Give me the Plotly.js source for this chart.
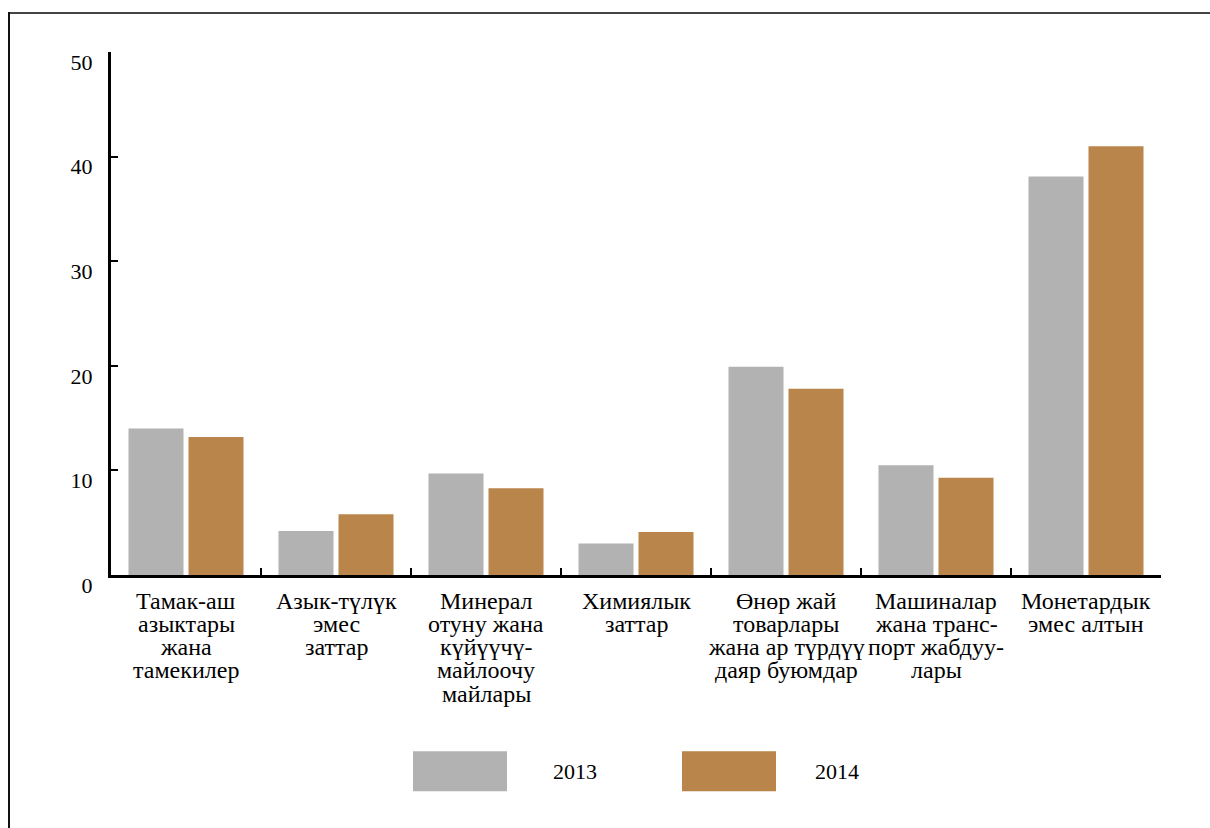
<!DOCTYPE html>
<html>
<head>
<meta charset="utf-8">
<script src="https://cdn.plot.ly/plotly-3.0.1.min.js"></script>
<style>
  html, body { margin: 0; padding: 0; background: #fff; }
  #chart { width: 1210px; height: 828px; }
</style>
</head>
<body>
<div id="chart"></div>
<script>
// ---- data ----
const categories = [
  "Тамак-аш<br>азыктары<br>жана<br>тамекилер",
  "Азык-түлүк<br>эмес<br>заттар",
  "Минерал<br>отуну жана<br>күйүүчү-<br>майлоочу<br>майлары",
  "Химиялык<br>заттар",
  "Өнөр жай<br>товарлары<br>жана ар түрдүү<br>даяр буюмдар",
  "Машиналар<br>жана транс-<br>порт жабдуу-<br>лары",
  "Монетардык<br>эмес алтын"
];
const seriesNames = ["2013", "2014"];
const values2013 = [14.0, 4.2, 9.7, 3.0, 19.9, 10.5, 38.1];
const values2014 = [13.2, 5.8, 8.3, 4.1, 17.8, 9.3, 41.0];
const yTickVals = [0, 10, 20, 30, 40, 50];
const yTickText = ["0", "10", "20", "30", "40", "50"];

// ---- styling ----
const FONT = '"Liberation Serif", "Times New Roman", Times, serif';
const colors = ["#b2b2b2", "#b9854a"];

const W = 1210, H = 828;
const M = { l: 111, r: 49, t: 52, b: 252.5 };
const pw = W - M.l - M.r, ph = H - M.t - M.b;
const px2x = p => (p - M.l) / pw;
const py2y = p => (H - M.b - p) / ph;

const traces = [values2013, values2014].map((vals, i) => ({
  type: "bar",
  name: seriesNames[i],
  x: categories,
  y: vals,
  marker: { color: colors[i], line: { width: 0 } },
  hoverinfo: "x+y+name",
  showlegend: false
}));

// category labels: one annotation per line, tight line spacing
const annotations = [];
categories.forEach(cat => {
  cat.split("<br>").forEach((line, j) => {
    annotations.push({
      x: cat, xref: "x", y: 0, yref: "paper",
      text: line, showarrow: false,
      xanchor: "center", yanchor: "middle",
      yshift: -(601 - (H - M.b)) - j * 23.3,
      font: { family: FONT, size: 24, color: "#000" }
    });
  });
});

// legend (custom large swatches)
const legendBoxes = [[413, 507], [682, 776]];
const legendTextX = [575, 836.5];
const shapes = [];
seriesNames.forEach((nm, i) => {
  shapes.push({
    type: "rect", xref: "paper", yref: "paper",
    x0: px2x(legendBoxes[i][0]), x1: px2x(legendBoxes[i][1]),
    y0: py2y(752), y1: py2y(792),
    fillcolor: colors[i], line: { width: 0 }
  });
  annotations.push({
    x: px2x(legendTextX[i]), xref: "paper", y: py2y(772), yref: "paper",
    text: nm, showarrow: false, xanchor: "center", yanchor: "middle",
    font: { family: FONT, size: 22, color: "#000" }
  });
});

// outer frame (top and left edges)
shapes.push({
  type: "line", xref: "paper", yref: "paper",
  x0: px2x(8), x1: px2x(1212), y0: py2y(13), y1: py2y(13),
  line: { color: "#444", width: 2 }
});
shapes.push({
  type: "line", xref: "paper", yref: "paper",
  x0: px2x(9), x1: px2x(9), y0: py2y(12), y1: py2y(830),
  line: { color: "#111", width: 2 }
});

const layout = {
  width: W, height: H,
  margin: M,
  paper_bgcolor: "#fff", plot_bgcolor: "#fff",
  barmode: "group",
  bargap: 0.2,
  bargroupgap: 0.0833,
  font: { family: FONT, size: 22, color: "#000" },
  xaxis: {
    type: "category",
    showticklabels: false,
    showline: true, linecolor: "#000", linewidth: 3,
    ticks: "inside", tickson: "boundaries", ticklen: 7, tickwidth: 2, tickcolor: "#000",
    showgrid: false, zeroline: false, fixedrange: true
  },
  yaxis: {
    range: [0, 50],
    tickvals: yTickVals, ticktext: yTickText,
    showline: true, linecolor: "#000", linewidth: 3,
    ticks: "inside", ticklen: 7, tickwidth: 2, tickcolor: "#000",
    ticklabelshift: 10, ticklabelstandoff: 11,
    tickfont: { family: FONT, size: 22, color: "#000" },
    showgrid: false, zeroline: false, fixedrange: true
  },
  shapes: shapes,
  annotations: annotations
};

Plotly.newPlot("chart", traces, layout, { displayModeBar: false, staticPlot: true });
</script>
</body>
</html>
